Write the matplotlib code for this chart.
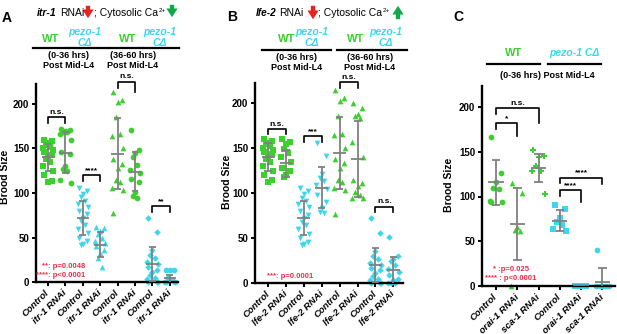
import matplotlib.pyplot as plt
from matplotlib.lines import Line2D
from matplotlib.patches import FancyArrowPatch

plt.rcParams['font.family'] = ['Liberation Sans', 'DejaVu Sans']

W, H = 617, 334
GREEN = '#3ccf2e'
CYAN = '#3fd6ec'
RED = '#e6304b'
GRAY = '#808080'

# ---------------- data ----------------
# panel A: itr-1 RNAi
a_labels = ['Control', 'itr-1 RNAi'] * 4
a_wt_ctrl = [160, 158, 156, 154, 152, 150, 148, 146, 143, 140, 138, 135, 130, 125, 120, 114, 112]
a_wt_itr = [172, 171, 170, 169, 168, 166, 160, 146, 144, 130, 127, 125, 115, 111]
a_pz_ctrl = [106, 102, 99, 95, 91, 88, 84, 80, 76, 72, 68, 64, 60, 55, 50, 46, 43, 42]
a_pz_itr = [62, 61, 57, 54, 50, 46, 44, 40, 36, 33, 27, 17]
a_wt_ctrl2 = [214, 205, 202, 185, 166, 164, 150, 138, 133, 128, 115, 112, 106, 103, 77]
a_wt_itr2 = [171, 148, 145, 141, 131, 126, 122, 116, 112, 101, 97, 94]
a_pz_ctrl2 = [72, 56, 36, 30, 27, 22, 20, 17, 14, 11, 8, 5, 3, 0, 0, 0]
a_pz_itr2 = [14, 14, 13, 4, 2, 0, 0, 0]
a_means = [140, 145, 72, 42, 144, 124, 20, 4]
a_sds = [15, 23, 19, 14, 40, 22, 19, 4]

# panel B: lfe-2 RNAi
b_labels = ['Control', 'lfe-2 RNAi'] * 4
b_wt_lfe = [160, 157, 154, 149, 144, 140, 134, 128, 124, 120, 118]
b_pz_lfe = [156, 141, 121, 117, 113, 109, 104, 98, 90, 83, 79, 78]
b_wt_lfe2 = [200, 194, 188, 185, 183, 157, 140, 115, 111, 108, 101, 98, 95, 94]
b_pz_lfe2 = [51, 30, 27, 25, 20, 16, 12, 9, 5, 3, 0, 0, 0]
b_means = [140, 133, 72, 106, 144, 138, 20, 14]
b_sds = [15, 15, 19, 23, 40, 42, 19, 15]

# panel C: orai-1 / sca-1 RNAi
c_labels = ['Control', 'orai-1 RNAi', 'sca-1 RNAi'] * 2
c_wt_ctrl = [167, 126, 116, 109, 108, 95, 94, 94]
c_wt_orai = [115, 104, 66, 63, 62, 0]
c_wt_sca = [152, 145, 144, 134, 129, 128, 103]
c_pz_ctrl = [91, 86, 76, 72, 68, 64, 62]
c_pz_orai = [0, 0, 0, 0, 0, 0]
c_pz_sca = [40, 0, 0, 0, 0, 0, 0]
c_means = [116, 69, 132, 73, 0, 5]
c_sds = [25, 40, 16, 12, 0, 15]

# brackets: (left group, right group, top, left leg end, right leg end, label)
a_brackets = [(0, 1, 185, 179, 179, 'n.s.'), (2, 3, 120, 113, 113, '****'),
              (4, 5, 225, 218, 213, 'n.s.'), (6, 7, 85, 79, 79, '**')]
b_brackets = [(0, 1, 171, 165, 165, 'n.s.'), (2, 3, 163, 157, 157, '***'),
              (4, 5, 223, 217, 217, 'n.s.'), (6, 7, 85, 79, 79, 'n.s.')]
c_brackets = [(0, 1, 182, 175, 168, '*'), (0, 2, 199, 192, 182, 'n.s.'),
              (3, 4, 107, 101, 94, '****'), (3, 5, 121, 115, 114, '****')]

JIT = [-0.24, 0.24, 0.0, -0.12, 0.12, -0.3, 0.3]

fig = plt.figure(figsize=(W / 100, H / 100), dpi=100)
renderer = fig.canvas.get_renderer()


def px(x, y):
    return x / W, 1 - y / H


def ftext(x, y, s, **kw):
    return fig.text(*px(x, y), s, **kw)


def fline(x0, x1, y):
    fig.add_artist(Line2D([x0 / W, x1 / W], [1 - y / H] * 2, color='black', lw=1.6,
                          transform=fig.transFigure))


def farrow(x, y0, y1, color):
    fig.add_artist(FancyArrowPatch(px(x, y0), px(x, y1), transform=fig.transFigure,
                                   arrowstyle='simple,head_width=0.9,head_length=0.7,tail_width=0.35',
                                   mutation_scale=9, color=color, lw=0))


def ca_title(x, y):
    t = ftext(x, y, '; Cytosolic Ca', ha='left', va='center', fontsize=7.5)
    bb = t.get_window_extent(renderer)
    fig.text((bb.x1 + 0.5) / W, (bb.y1 + 0.5) / H, '2+', ha='left', va='top', fontsize=4.5)


def draw_panel(ax, groups, means, sds, markers, colors, labels, brackets, xlim, ylim):
    for i, vals in enumerate(groups):
        xs = [i + JIT[k % len(JIT)] for k in range(len(vals))]
        size = 11 if markers[i] == 'D' else 17
        ax.scatter(xs, vals, s=size, marker=markers[i], color=colors[i], linewidths=0,
                   clip_on=False, zorder=2)
        lo = means[i] - sds[i]
        hi = means[i] + sds[i]
        ax.vlines(i, max(lo, 0), hi, color=GRAY, lw=1.3, zorder=3)
        ax.hlines(hi, i - 0.2, i + 0.2, color=GRAY, lw=1.3, zorder=3)
        if lo > 0:
            ax.hlines(lo, i - 0.2, i + 0.2, color=GRAY, lw=1.3, zorder=3)
        ax.hlines(means[i], i - 0.36, i + 0.36, color=GRAY, lw=1.3, zorder=3)
    for x1, x2, top, l1, l2, lab in brackets:
        ax.plot([x1, x1, x2, x2], [l1, top, top, l2], color='black', lw=1.2, clip_on=False)
        ax.text((x1 + x2) / 2, top + 1.5, lab, ha='center', va='bottom', fontsize=6,
                fontweight='bold')
    ax.set_xlim(*xlim)
    ax.set_ylim(*ylim)
    for s in ['top', 'right']:
        ax.spines[s].set_visible(False)
    for s in ['left', 'bottom']:
        ax.spines[s].set_linewidth(1.7)
    ax.set_yticks([0, 50, 100, 150, 200])
    ax.set_yticklabels(['0', '50', '100', '150', '200'], fontsize=7, fontweight='bold')
    ax.set_xticks(range(len(groups)))
    ax.set_xticklabels(labels, rotation=45, ha='right', va='center', rotation_mode='anchor',
                       fontsize=6.8, fontweight='bold', fontstyle='italic')
    ax.tick_params(axis='both', width=1.4, length=3, pad=2)
    ax.tick_params(axis='x', pad=4)


axA = fig.add_axes([36 / W, 52 / H, 142 / W, 222 * 0.89 / H])
draw_panel(axA, [a_wt_ctrl, a_wt_itr, a_pz_ctrl, a_pz_itr, a_wt_ctrl2, a_wt_itr2, a_pz_ctrl2, a_pz_itr2],
           a_means, a_sds, ['s', 'o', 'v', '^', '^', 'o', 'D', 'o'],
           [GREEN, GREEN, CYAN, CYAN, GREEN, GREEN, CYAN, CYAN], a_labels, a_brackets,
           (-0.69, 7.47), (0, 222))
axA.text(2.15, 17, '**: p=0.0048', ha='right', va='center', fontsize=5.5, fontweight='bold', color=RED)
axA.text(2.15, 7, '****: p<0.0001', ha='right', va='center', fontsize=5.5, fontweight='bold', color=RED)

axB = fig.add_axes([255 / W, 51 / H, 148 / W, 222 * 0.9 / H])
draw_panel(axB, [a_wt_ctrl, b_wt_lfe, a_pz_ctrl, b_pz_lfe, a_wt_ctrl2, b_wt_lfe2, a_pz_ctrl2, b_pz_lfe2],
           b_means, b_sds, ['s', 's', 'v', 'v', '^', '^', 'D', 'D'],
           [GREEN, GREEN, CYAN, CYAN, GREEN, GREEN, CYAN, CYAN], b_labels, b_brackets,
           (-0.73, 7.54), (0, 222))
axB.text(-0.05, 7, '***: p=0.0001', ha='left', va='center', fontsize=5.5, fontweight='bold', color=RED)

axC = fig.add_axes([482 / W, 48 / H, 133 / W, 224 * 0.895 / H])
draw_panel(axC, [c_wt_ctrl, c_wt_orai, c_wt_sca, c_pz_ctrl, c_pz_orai, c_pz_sca],
           c_means, c_sds, ['o', '^', 'P', 's', 's', 'o'],
           [GREEN, GREEN, GREEN, CYAN, CYAN, CYAN], c_labels, c_brackets,
           (-0.66, 5.6), (0, 224))
axC.text(0.72, 18, '* :p=0.025', ha='center', va='center', fontsize=5.5, fontweight='bold', color=RED)
axC.text(0.68, 8, '**** : p<0.0001', ha='center', va='center', fontsize=5.5, fontweight='bold', color=RED)

# y labels
ftext(5, 177, 'Brood Size', rotation=90, ha='center', va='center', fontsize=7.5, fontweight='bold')
ftext(227, 182, 'Brood Size', rotation=90, ha='center', va='center', fontsize=7.5, fontweight='bold')
ftext(449, 185, 'Brood Size', rotation=90, ha='center', va='center', fontsize=7.5, fontweight='bold')

# panel letters
ftext(7, 18, 'A', ha='center', va='center', fontsize=10, fontweight='bold')
ftext(232, 17, 'B', ha='center', va='center', fontsize=10, fontweight='bold')
ftext(458, 17, 'C', ha='center', va='center', fontsize=10, fontweight='bold')

# titles
ftext(37, 13, 'itr-1', ha='left', va='center', fontsize=7.5, fontweight='bold', fontstyle='italic')
ftext(60, 13, 'RNAi', ha='left', va='center', fontsize=7.5)
farrow(88, 3, 21, '#e8231f')
ca_title(94, 13)
farrow(172, 2, 20, '#12a84a')

ftext(256, 13, 'lfe-2', ha='left', va='center', fontsize=7.2, fontweight='bold', fontstyle='italic')
ftext(279, 13, 'RNAi', ha='left', va='center', fontsize=7.5)
farrow(313, 3, 22, '#e8231f')
ca_title(318, 13)
farrow(398, 22, 3, '#12a84a')

# genotype headers
for x, c in [(51, 'WT'), (128, 'WT'), (287, 'WT'), (356, 'WT')]:
    ftext(x, 39, c, ha='center', va='center', fontsize=8, fontweight='bold', color=GREEN)
for x in [85, 160, 312, 386]:
    ftext(x, 32, 'pezo-1', ha='center', va='center', fontsize=7.5, fontweight='bold',
          fontstyle='italic', color=CYAN)
    ftext(x, 43, 'CΔ', ha='center', va='center', fontsize=7.5, fontweight='bold',
          fontstyle='italic', color=CYAN)
for x0, x1, y in [(33, 68, 48), (69, 107, 48), (109, 143, 48), (144, 179, 48),
                  (262, 294, 50), (295, 331, 50), (337, 372, 50), (373, 407, 50),
                  (487, 540, 64), (548, 601, 64)]:
    fline(x0, x1, y)
for x, y0, t in [(69, 56, '(0-36 hrs)'), (133, 56, '(36-60 hrs)'), (297, 58, '(0-36 hrs)'),
                 (370, 58, '(36-60 hrs)')]:
    ftext(x, y0, t, ha='center', va='center', fontsize=6.5, fontweight='bold')
    ftext(x, y0 + 9, 'Post Mid-L4', ha='center', va='center', fontsize=6.5, fontweight='bold')
ftext(514, 53, 'WT', ha='center', va='center', fontsize=8, fontweight='bold', color=GREEN)
ftext(574, 53, 'pezo-1 CΔ', ha='center', va='center', fontsize=7.5, fontweight='bold',
      fontstyle='italic', color=CYAN)
ftext(547, 75, '(0-36 hrs) Post Mid-L4', ha='center', va='center', fontsize=6.5, fontweight='bold')

fig.savefig('out.png', dpi=100)
